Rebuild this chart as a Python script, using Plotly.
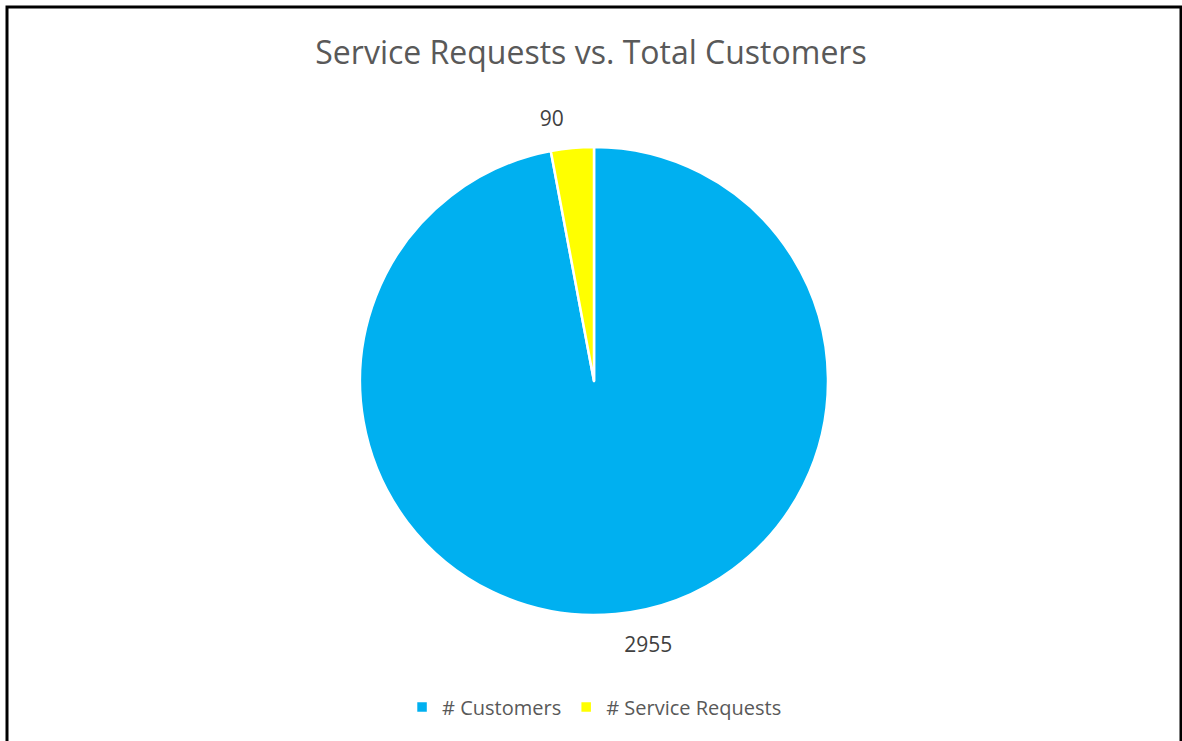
import plotly.graph_objects as go

labels = ["# Customers", "# Service Requests"]
values = [2955, 90]
colors = ["#00B0F0", "#FFFF00"]

cx, cy, r = 594, 381, 234      # pie centre / radius in px
r_lab = 250                      # radius of the (invisible) label ring
W, H = 1182, 741


def dom(rad):
    return dict(x=[(cx - rad) / W, (cx + rad) / W],
                y=[1 - (cy + rad) / H, 1 - (cy - rad) / H])


fig = go.Figure()

# invisible ring carrying the outside data labels, a little outside the visible pie
fig.add_trace(go.Pie(
    labels=labels,
    values=values,
    marker=dict(colors=["rgba(0,0,0,0)"] * len(values), line=dict(width=0)),
    sort=False,
    direction="clockwise",
    rotation=0,
    textinfo="value",
    textposition="outside",
    textfont=dict(family="Open Sans", size=21, color="#404040"),
    hoverinfo="skip",
    showlegend=False,
    domain=dom(r_lab),
))

# visible pie
fig.add_trace(go.Pie(
    labels=labels,
    values=values,
    marker=dict(colors=colors, line=dict(color="white", width=2.5)),
    sort=False,
    direction="clockwise",
    rotation=0,
    textinfo="none",
    hoverinfo="label+value",
    domain=dom(r),
))

fig.update_layout(
    width=W, height=H,
    margin=dict(l=0, r=0, t=0, b=0),
    paper_bgcolor="white",
    title=dict(text="Service Requests vs. Total Customers",
               x=0.5, xanchor="center", y=1 - 53/741, yanchor="middle",
               font=dict(family="Open Sans", size=32, color="#595959")),
    showlegend=True,
    legend=dict(orientation="h", x=0.503, xanchor="center", y=1 - 707/741, yanchor="middle",
                font=dict(family="Open Sans", size=20, color="#595959"),
                itemwidth=30, traceorder="normal"),
    shapes=[dict(type="rect", xref="paper", yref="paper",
                 x0=7/1182, x1=1181/1182, y0=-0.02, y1=1 - 7/741,
                 line=dict(color="black", width=3), fillcolor="rgba(0,0,0,0)")],
)

fig.write_html("out.html")
